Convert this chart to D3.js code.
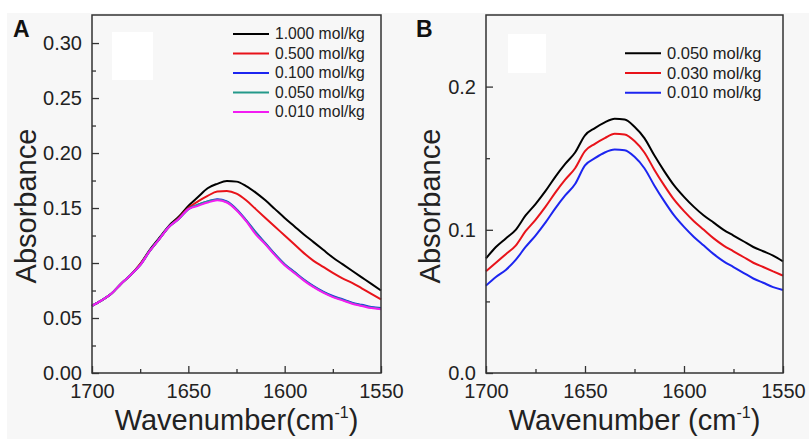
<!DOCTYPE html>
<meta charset="utf-8">
<style>
body { margin: 0; background: #fff; }
svg { display: block; font-family: "Liberation Sans", Arial, sans-serif; }
.frame { fill: none; stroke: #333; stroke-width: 1.5px; }
.line { fill: none; stroke-width: 2px; stroke-linejoin: round; }
.axis path { display: none; }
.axis line { stroke: #333; stroke-width: 1.3px; }
.axis text { font-size: 20px; fill: #222; }
.legend text { fill: #222; }
.title { font-size: 29px; fill: #222; }
</style>
<svg width="809" height="439"></svg>
<script src="https://cdn.jsdelivr.net/npm/d3@7/dist/d3.min.js"></script>
<script>

// wavenumber grid shared by every spectrum (cm-1)
var wavenumbers = [1700, 1695, 1690, 1685, 1680, 1675, 1670, 1665, 1660, 1655,
                   1650, 1645, 1640, 1635, 1630, 1625, 1620, 1615, 1610, 1605,
                   1600, 1595, 1590, 1585, 1580, 1575, 1570, 1565, 1560, 1555, 1550];

// panel A
var labelsA = ["1.000 mol/kg", "0.500 mol/kg", "0.100 mol/kg", "0.050 mol/kg", "0.010 mol/kg"];
var colorsA = ["#000000", "#e8131a", "#1c25f0", "#24998a", "#f21cf2"];
var a1000 = [0.061, 0.066, 0.072, 0.081, 0.089, 0.099, 0.112, 0.123, 0.134, 0.142,
             0.152, 0.160, 0.168, 0.172, 0.1745, 0.174, 0.170, 0.164, 0.157, 0.149,
             0.141, 0.1335, 0.126, 0.119, 0.112, 0.105, 0.099, 0.093, 0.087, 0.081, 0.075];
var a0500 = [0.061, 0.066, 0.072, 0.081, 0.089, 0.099, 0.111, 0.122, 0.133, 0.141,
             0.150, 0.156, 0.161, 0.165, 0.1655, 0.163, 0.157, 0.149, 0.141, 0.133,
             0.125, 0.117, 0.109, 0.102, 0.0965, 0.091, 0.086, 0.082, 0.077, 0.072, 0.067];
var a0100 = [0.061, 0.066, 0.072, 0.081, 0.089, 0.098, 0.111, 0.122, 0.133, 0.140,
             0.149, 0.153, 0.156, 0.158, 0.156, 0.149, 0.139, 0.128, 0.118, 0.108,
             0.099, 0.092, 0.085, 0.079, 0.074, 0.070, 0.067, 0.064, 0.062, 0.060, 0.059];
var a0050 = [0.061, 0.066, 0.072, 0.081, 0.089, 0.098, 0.111, 0.122, 0.133, 0.140,
             0.149, 0.153, 0.156, 0.1575, 0.1555, 0.1485, 0.1385, 0.1275, 0.1175, 0.1075,
             0.0985, 0.0915, 0.0845, 0.0785, 0.0735, 0.0695, 0.0665, 0.0635, 0.0615, 0.0595, 0.0585];
var a0010 = [0.061, 0.066, 0.072, 0.081, 0.089, 0.098, 0.111, 0.122, 0.133, 0.140,
             0.149, 0.152, 0.155, 0.157, 0.155, 0.148, 0.138, 0.126, 0.117, 0.107,
             0.098, 0.091, 0.084, 0.078, 0.073, 0.069, 0.066, 0.063, 0.061, 0.059, 0.058];
var seriesA = [a1000, a0500, a0100, a0050, a0010];

// panel B
var labelsB = ["0.050 mol/kg", "0.030 mol/kg", "0.010 mol/kg"];
var colorsB = ["#000000", "#e8131a", "#1c25f0"];
var b0050 = [0.080, 0.088, 0.094, 0.100, 0.110, 0.118, 0.127, 0.137, 0.146, 0.154,
             0.166, 0.171, 0.175, 0.1775, 0.177, 0.172, 0.164, 0.152, 0.141, 0.131,
             0.123, 0.116, 0.110, 0.105, 0.100, 0.096, 0.092, 0.088, 0.085, 0.082, 0.078];
var b0030 = [0.071, 0.077, 0.083, 0.089, 0.099, 0.107, 0.116, 0.126, 0.135, 0.143,
             0.155, 0.160, 0.164, 0.167, 0.1665, 0.162, 0.154, 0.142, 0.131, 0.121,
             0.113, 0.106, 0.100, 0.094, 0.089, 0.085, 0.081, 0.077, 0.074, 0.071, 0.068];
var b0010 = [0.061, 0.067, 0.072, 0.079, 0.088, 0.096, 0.105, 0.115, 0.124, 0.132,
             0.145, 0.150, 0.154, 0.156, 0.1555, 0.151, 0.143, 0.131, 0.120, 0.110,
             0.102, 0.095, 0.089, 0.083, 0.078, 0.074, 0.070, 0.066, 0.063, 0.060, 0.058];
var seriesB = [b0050, b0030, b0010];

var svg = d3.select("svg");

svg.append("rect")
    .attr("x", 7).attr("y", 13)
    .attr("width", 802).attr("height", 426)
    .attr("fill", "#f7f7f7");

function drawPanel(p) {
  var x = d3.scaleLinear().domain([1700, 1550]).range([p.left, p.right]);
  var y = d3.scaleLinear().domain([0, p.yMax]).range([p.bottom, p.top]);
  var g = svg.append("g");

  // blank white box in the upper left
  g.append("rect")
      .attr("x", p.box[0]).attr("y", p.box[1])
      .attr("width", p.box[2]).attr("height", p.box[3])
      .attr("fill", "#fff");

  // spectra
  var line = d3.line()
      .x(function(d, i) { return x(wavenumbers[i]); })
      .y(function(d) { return y(d); })
      .curve(d3.curveMonotoneX);
  p.series.forEach(function(s, i) {
    g.append("path")
        .datum(s)
        .attr("class", "line")
        .attr("stroke", p.colors[i])
        .attr("d", line);
  });

  // axes, ticks pointing inward
  g.append("g").attr("class", "axis")
      .attr("transform", "translate(0," + p.bottom + ")")
      .call(d3.axisBottom(x).tickValues([1700, 1650, 1600, 1550])
            .tickFormat(d3.format("d")).tickSize(-7).tickPadding(11));
  g.append("g").attr("class", "axis")
      .attr("transform", "translate(0," + p.bottom + ")")
      .call(d3.axisBottom(x).tickValues([1675, 1625, 1575]).tickFormat("").tickSize(-4));
  g.append("g").attr("class", "axis")
      .attr("transform", "translate(" + p.left + ",0)")
      .call(d3.axisLeft(y).tickValues(p.yMajor)
            .tickFormat(d3.format(p.yFmt)).tickSize(-7).tickPadding(10));
  g.append("g").attr("class", "axis")
      .attr("transform", "translate(" + p.left + ",0)")
      .call(d3.axisLeft(y).tickValues(p.yMinor).tickFormat("").tickSize(-4));

  g.append("rect")
      .attr("class", "frame")
      .attr("x", p.left).attr("y", p.top)
      .attr("width", p.right - p.left).attr("height", p.bottom - p.top);

  // legend
  var lg = g.append("g").attr("class", "legend");
  p.labels.forEach(function(t, i) {
    var ly = p.legY + i * p.legStep;
    lg.append("line")
        .attr("x1", p.legX).attr("x2", p.legX + 36)
        .attr("y1", ly).attr("y2", ly)
        .attr("stroke", p.colors[i]).attr("stroke-width", 2);
    lg.append("text")
        .attr("x", p.legX + 42).attr("y", ly).attr("dy", "0.35em")
        .style("font-size", p.legFont + "px")
        .text(t);
  });

  // axis titles
  var xt = g.append("text")
      .attr("class", "title")
      .attr("x", (p.left + p.right) / 2).attr("y", 430)
      .attr("text-anchor", "middle")
      .text(p.xTitle);
  xt.append("tspan").attr("dy", -12).style("font-size", "16px").text("-1");
  xt.append("tspan").attr("dy", 12).text(")");

  g.append("text")
      .attr("class", "title")
      .attr("transform", "translate(" + p.yTitleX + ",206) rotate(-90)")
      .attr("text-anchor", "middle")
      .text("Absorbance");

  g.append("text")
      .attr("x", p.tag[1]).attr("y", 37)
      .style("font-size", "23px").style("font-weight", "bold")
      .attr("fill", "#111")
      .text(p.tag[0]);
}

drawPanel({
  left: 92, right: 381, top: 15, bottom: 373, yMax: 0.3255,
  yMajor: [0, 0.05, 0.10, 0.15, 0.20, 0.25, 0.30],
  yMinor: [0.025, 0.075, 0.125, 0.175, 0.225, 0.275],
  yFmt: ".2f",
  series: seriesA, colors: colorsA, labels: labelsA,
  legX: 233, legY: 34, legStep: 19.5, legFont: 15.7,
  box: [112, 32, 41, 48],
  xTitle: "Wavenumber(cm", yTitleX: 36, tag: ["A", 13]
});

drawPanel({
  left: 486, right: 783, top: 15, bottom: 373, yMax: 0.25,
  yMajor: [0, 0.1, 0.2],
  yMinor: [0.05, 0.15],
  yFmt: ".1f",
  series: seriesB, colors: colorsB, labels: labelsB,
  legX: 625, legY: 53.3, legStep: 19.7, legFont: 16.5,
  box: [508, 34, 38, 39],
  xTitle: "Wavenumber (cm", yTitleX: 440, tag: ["B", 416]
});

</script>
